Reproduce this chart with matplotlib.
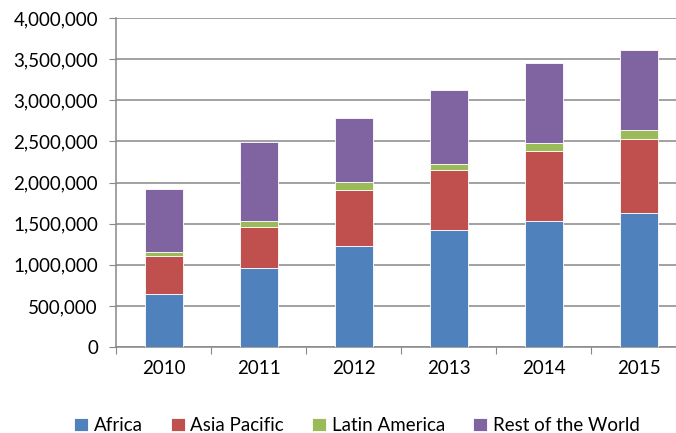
import matplotlib.pyplot as plt
import matplotlib.ticker as mticker
import numpy as np

plt.rcParams['font.family'] = ['Lato', 'DejaVu Sans']

years = ['2010', '2011', '2012', '2013', '2014', '2015']
africa = [650000, 957000, 1233000, 1420000, 1529000, 1635000]
asia_pacific = [457000, 499000, 677000, 730000, 855000, 895000]
latin_america = [53000, 77000, 94000, 76000, 94000, 106000]
rest_of_world = [755000, 954000, 776000, 893000, 973000, 973000]

series = [
    ('Africa', africa, '#4F81BD'),
    ('Asia Pacific', asia_pacific, '#C0504D'),
    ('Latin America', latin_america, '#9BBB59'),
    ('Rest of the World', rest_of_world, '#8064A2'),
]

fig = plt.figure(figsize=(6.76, 4.33), dpi=100)
ax = fig.add_axes([116 / 676, 1 - 347 / 433, 570 / 676, (347 - 18) / 433])

x = np.arange(len(years))
bottom = np.zeros(len(years))
handles = []
for name, vals, col in series:
    b = ax.bar(x, vals, 0.4, bottom=bottom, color=col, edgecolor='white',
               linewidth=0.6, label=name, zorder=3)
    handles.append(b)
    bottom += np.array(vals)

ax.set_ylim(0, 4000000)
ax.set_xlim(-0.5, 5.5)
ax.yaxis.set_major_locator(mticker.MultipleLocator(500000))
ax.yaxis.set_major_formatter(mticker.FuncFormatter(lambda v, p: f'{int(v):,}'))
ax.grid(axis='y', color='#888888', linewidth=1.1, zorder=0)

ax.set_xticks(np.arange(-0.5, 6.0, 1.0))
ax.set_xticklabels([])
ax.set_xticks(x, minor=True)
ax.set_xticklabels(years, minor=True)
ax.tick_params(axis='x', which='major', length=5, color='#888888')
ax.tick_params(axis='x', which='minor', length=0, pad=9, labelsize=13.5)
ax.tick_params(axis='y', length=5, color='#888888', pad=8, labelsize=13.5)

for s in ['top', 'right']:
    ax.spines[s].set_visible(False)
for s in ['left', 'bottom']:
    ax.spines[s].set_color('#888888')
    ax.spines[s].set_linewidth(1.1)

fig.legend(handles=handles, loc='center', bbox_to_anchor=(0.528, 0.017), ncol=4,
           frameon=False, fontsize=13.5, handlelength=0.75, handleheight=0.75,
           handletextpad=0.3, columnspacing=1.5)

fig.savefig('out.png', dpi=100)
